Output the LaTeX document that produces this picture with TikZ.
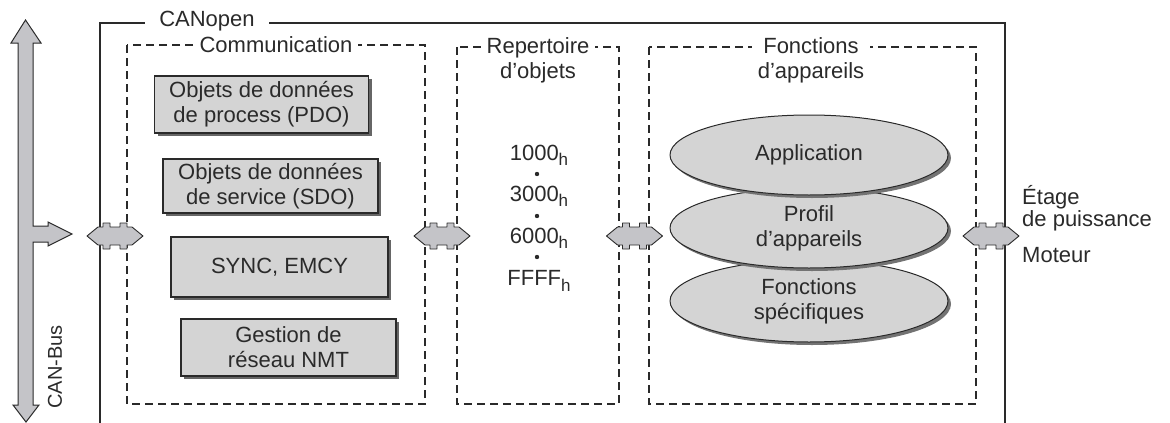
\documentclass[tikz,border=0pt]{standalone}
\usepackage{fontspec}
\setmainfont{Liberation Sans}
\usetikzlibrary{shapes.geometric,shadows}
\definecolor{boxgrey}{HTML}{D4D4D4}
\definecolor{arrgrey}{HTML}{C4C4C8}
\definecolor{ink}{HTML}{2A2A2A}
\newcommand\hsub{\raisebox{-0.45ex}{\fontsize{17}{17}\selectfont h}}
\begin{document}
\begin{tikzpicture}[x=1pt,y=-1pt,
  font=\fontsize{22}{25}\selectfont,
  text=ink,
  frame/.style={line width=1.4pt,draw=ink},
  dashbox/.style={line width=1.2pt,draw=ink,dash pattern=on 8pt off 5pt},
  boxlabel/.style={fill=white,inner xsep=10pt,inner ysep=1pt,align=center},
  objbox/.style={draw=ink,line width=1.2pt,fill=boxgrey,align=center,inner sep=0pt,
    drop shadow={shadow xshift=3pt,shadow yshift=-3pt,fill=black!60,opacity=1}},
  ellbox/.style={ellipse,draw=ink,line width=1pt,fill=boxgrey,align=center,inner sep=0pt,
    minimum width=278pt,
    drop shadow={shadow xshift=3pt,shadow yshift=-3pt,fill=black!55,opacity=1}},
  dblarr/.pic={\draw[ink,line width=0.9pt,fill=arrgrey,line join=round]
    (-28,0) -- (-17,-9) -- (-12,-9) -- (-12,-13) -- (-5,-13) -- (-5,-9) -- (5,-9) -- (5,-13)
    -- (12,-13) -- (12,-9) -- (17,-9) -- (28,0) -- (17,9) -- (12,9) -- (12,13) -- (5,13)
    -- (5,9) -- (-5,9) -- (-5,13) -- (-12,13) -- (-12,9) -- (-17,9) -- cycle;}
]
\useasboundingbox (0,0) rectangle (1170,423);

% CAN bus arrow
\draw[ink,line width=1pt,fill=arrgrey,line join=miter]
  (25.5,20) -- (41,43) -- (33,43) -- (33,226) -- (48,226) -- (48,222) -- (72,234)
  -- (48,246) -- (48,242) -- (33,242) -- (33,405) -- (39,405) -- (26,422)
  -- (13,405) -- (18,405) -- (18,43) -- (11,43) -- cycle;
\node[rotate=90,font=\fontsize{20}{22}\selectfont] (canbus) at (55,367) {CAN-Bus};

% CANopen frame
\draw[frame] (100,423) -- (100,23) -- (1005,23) -- (1005,423);
\node[boxlabel,inner xsep=14pt] (canopen) at (207,21) {CANopen};

% dashed boxes
\draw[dashbox] (127,45) rectangle (425,404);
\node[boxlabel,inner xsep=6pt] (comm) at (276,45) {Communication};
\draw[dashbox] (457,47) rectangle (619,404);
\node[boxlabel,inner xsep=6pt] (rep) at (538,60) {Repertoire\\d'objets};
\draw[dashbox] (649,47) rectangle (976,404);
\node[boxlabel,inner xsep=6pt] (fonc) at (811,60) {Fonctions\\d'appareils};

% communication objects
\node[objbox,minimum width=214pt,minimum height=57pt] (pdo) at (261.5,104.5) {Objets de données\\de process (PDO)};
\node[objbox,minimum width=215pt,minimum height=54pt] (sdo) at (270.5,186) {Objets de données\\de service (SDO)};
\node[objbox,minimum width=217pt,minimum height=60pt] (sync) at (279.5,267) {SYNC, EMCY};
\node[objbox,minimum width=215pt,minimum height=57pt] (nmt) at (288.5,347.5) {Gestion de\\réseau NMT};

% object directory
\node (r1) at (539,155) {1000\hsub};
\node (r2) at (539,196) {3000\hsub};
\node (r3) at (539,238) {6000\hsub};
\node (r4) at (539,281) {FFFF\hsub};
\fill[ink] (537,174) circle (2.2);
\fill[ink] (537,216) circle (2.2);
\fill[ink] (537,257) circle (2.2);

% device function ellipses
\node[ellbox,minimum height=82pt] (spec) at (809,301) {Fonctions\\spécifiques};
\node[ellbox,minimum height=80pt] (prof) at (809,228) {Profil\\d'appareils};
\node[ellbox,minimum height=80pt] (appl) at (809,155) {Application};

% interface arrows
\pic at (115,236) {dblarr};
\pic at (442,236) {dblarr};
\pic at (634.5,236) {dblarr};
\pic at (991,236) {dblarr};

% right labels
\node[anchor=west,align=left,inner sep=0pt,font=\fontsize{22}{20}\selectfont] (etage) at (1022,208) {Étage\\de puissance};
\node[anchor=west,inner sep=0pt] (moteur) at (1022,255) {Moteur};
\end{tikzpicture}
\end{document}
